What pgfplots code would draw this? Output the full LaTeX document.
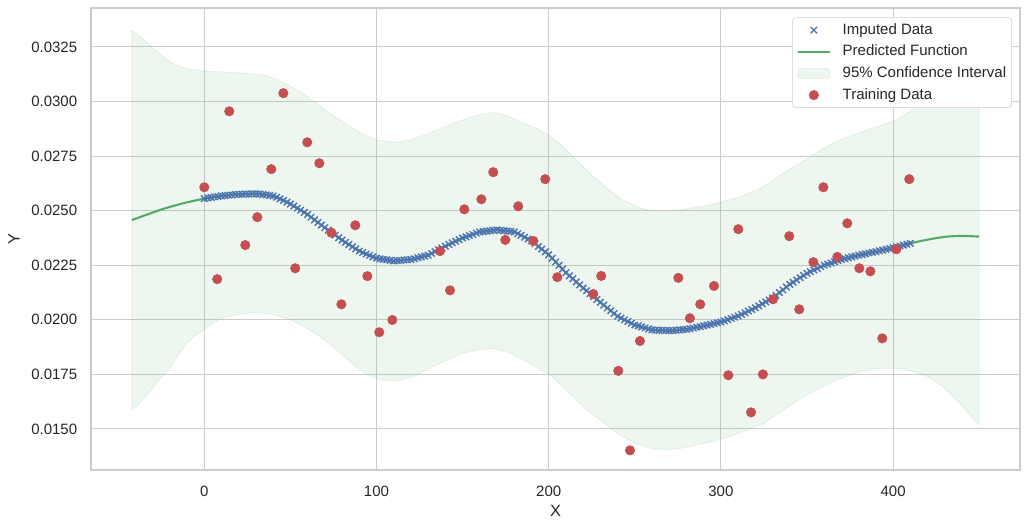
\documentclass[border=0pt]{standalone}
\usepackage{fontspec}
\setmainfont{Liberation Sans}
\usepackage{pgfplots}
\pgfplotsset{compat=1.18}
\usepgfplotslibrary{fillbetween}

\definecolor{sbblue}{RGB}{76,114,176}
\definecolor{sbgreen}{RGB}{85,168,104}
\definecolor{sbred}{RGB}{196,78,82}
\definecolor{gridgray}{RGB}{204,204,204}
\definecolor{txtgray}{RGB}{38,38,38}

\pgfplotsset{
  marklegend/.style={legend image code/.code={\draw[mark repeat=2,mark phase=2,##1] plot coordinates {(0pt,0pt) (11.5pt,0pt) (23pt,0pt)};}},
  linelegend/.style={legend image code/.code={\draw[##1] (0pt,0pt) -- (23pt,0pt);}},
  patchlegend/.style={legend image code/.code={\draw[##1] (0pt,-3.7pt) rectangle (23pt,3.7pt);}},
}

% upper / lower edge of the 95% band
\pgfplotstableread{
x y
-42 0.03326
-38 0.03305
-34 0.03275
-30 0.03245
-25 0.03212
-20 0.03182
-15 0.03162
-10 0.03150
-2 0.03140
8 0.03136
17 0.03133
28 0.03127
37 0.03117
44 0.03095
50 0.03070
56 0.03042
63 0.03005
73 0.02945
83 0.02893
92 0.02850
100 0.02824
110 0.02812
120 0.02825
131 0.02855
140 0.02885
150 0.02916
160 0.02940
168 0.02949
176 0.02935
183 0.02908
192 0.02880
200 0.02847
206 0.02810
212 0.02765
218 0.02717
226 0.02656
235 0.02595
243 0.02549
253 0.02512
263 0.02495
272 0.02498
282 0.02511
292 0.02524
301 0.02541
311 0.02563
321 0.02595
329 0.02630
336 0.02671
346 0.02717
352 0.02747
358 0.02778
365 0.02809
375 0.02842
385 0.02870
393 0.02890
402 0.02916
410 0.02955
420 0.03007
430 0.03080
440 0.03165
450 0.03245
}\ciupper

\pgfplotstableread{
x y
-42 0.01586
-38 0.01615
-34 0.01648
-30 0.01690
-25 0.01735
-20 0.01778
-15 0.01840
-10 0.01895
-5 0.01930
0 0.01955
5 0.01985
11 0.02010
20 0.02025
30 0.02033
40 0.02025
50 0.02000
60 0.01960
69 0.01912
77 0.01862
84 0.01812
92 0.01760
102 0.01725
112 0.01720
122 0.01742
131 0.01778
140 0.01812
150 0.01847
160 0.01864
168 0.01868
176 0.01852
185 0.01816
193 0.01782
201 0.01747
210 0.01680
220 0.01602
230 0.01540
240 0.01478
250 0.01436
259 0.01412
267 0.01404
276 0.01410
286 0.01427
296 0.01444
305 0.01465
315 0.01494
325 0.01526
336 0.01585
348 0.01648
356 0.01683
365 0.01717
375 0.01748
385 0.01770
393 0.01778
402 0.01778
411 0.01765
420 0.01740
428 0.01700
435 0.01648
442 0.01590
450 0.01518
}\cilower

\pgfplotstableread{
x y
-42 0.02457
-35 0.02477
-30 0.02491
-25 0.02505
-20 0.02517
-15 0.02528
-10 0.02538
-5 0.02547
0 0.02555
5 0.02562
10 0.02568
15 0.02572
20 0.02575
25 0.02576
30 0.02577
35 0.02573
40 0.02567
45 0.02551
50 0.02530
55 0.02507
60 0.02482
65 0.02452
70 0.02422
75 0.02394
80 0.02365
85 0.02340
90 0.02315
95 0.02298
100 0.02282
105 0.02276
110 0.02270
115 0.02273
120 0.02276
125 0.02286
130 0.02296
135 0.02317
140 0.02337
145 0.02356
150 0.02375
155 0.02389
160 0.02402
165 0.02407
170 0.02412
175 0.02408
180 0.02403
185 0.02383
190 0.02362
195 0.02330
200 0.02298
205 0.02257
210 0.02216
215 0.02181
220 0.02146
225 0.02113
230 0.02080
235 0.02048
240 0.02016
245 0.01996
250 0.01976
255 0.01965
260 0.01954
265 0.01952
270 0.01950
275 0.01953
280 0.01956
285 0.01964
290 0.01972
295 0.01981
300 0.01990
305 0.02003
310 0.02017
315 0.02036
320 0.02055
325 0.02078
330 0.02100
335 0.02131
340 0.02162
345 0.02188
350 0.02213
355 0.02232
360 0.02250
365 0.02263
370 0.02276
375 0.02286
380 0.02296
385 0.02304
390 0.02312
395 0.02321
400 0.02330
405 0.02340
410 0.02350
415 0.02359
420 0.02367
425 0.02374
430 0.02380
435 0.02383
440 0.02384
445 0.02383
450 0.02381
}\predicted

\pgfplotstableread{
x y
0 0.02555
2 0.02558
4 0.02560
6 0.02563
8 0.02565
10 0.02568
12 0.02569
14 0.02571
16 0.02572
18 0.02574
20 0.02575
22 0.02575
24 0.02576
26 0.02576
28 0.02577
30 0.02577
32 0.02576
34 0.02574
36 0.02572
38 0.02570
40 0.02567
42 0.02561
44 0.02554
46 0.02547
48 0.02539
50 0.02530
52 0.02521
54 0.02511
56 0.02502
58 0.02492
60 0.02482
62 0.02470
64 0.02458
66 0.02446
68 0.02434
70 0.02422
72 0.02411
74 0.02399
76 0.02388
78 0.02376
80 0.02365
82 0.02355
84 0.02345
86 0.02335
88 0.02325
90 0.02315
92 0.02308
94 0.02301
96 0.02295
98 0.02288
100 0.02282
102 0.02279
104 0.02277
106 0.02275
108 0.02272
110 0.02270
112 0.02271
114 0.02272
116 0.02274
118 0.02275
120 0.02276
122 0.02280
124 0.02284
126 0.02288
128 0.02292
130 0.02296
132 0.02304
134 0.02312
136 0.02321
138 0.02329
140 0.02337
142 0.02345
144 0.02352
146 0.02360
148 0.02367
150 0.02375
152 0.02380
154 0.02386
156 0.02391
158 0.02397
160 0.02402
162 0.02404
164 0.02406
166 0.02408
168 0.02410
170 0.02412
172 0.02410
174 0.02408
176 0.02407
178 0.02405
180 0.02403
182 0.02395
184 0.02387
186 0.02378
188 0.02370
190 0.02362
192 0.02349
194 0.02336
196 0.02324
198 0.02311
200 0.02298
202 0.02282
204 0.02265
206 0.02249
208 0.02232
210 0.02216
212 0.02202
214 0.02188
216 0.02174
218 0.02160
220 0.02146
222 0.02133
224 0.02120
226 0.02106
228 0.02093
230 0.02080
232 0.02067
234 0.02054
236 0.02042
238 0.02029
240 0.02016
242 0.02008
244 0.02000
246 0.01992
248 0.01984
250 0.01976
252 0.01972
254 0.01967
256 0.01963
258 0.01958
260 0.01954
262 0.01953
264 0.01952
266 0.01952
268 0.01951
270 0.01950
272 0.01951
274 0.01952
276 0.01954
278 0.01955
280 0.01956
282 0.01959
284 0.01962
286 0.01966
288 0.01969
290 0.01972
292 0.01976
294 0.01979
296 0.01983
298 0.01986
300 0.01990
302 0.01995
304 0.02001
306 0.02006
308 0.02012
310 0.02017
312 0.02025
314 0.02032
316 0.02040
318 0.02047
320 0.02055
322 0.02064
324 0.02073
326 0.02082
328 0.02091
330 0.02100
332 0.02112
334 0.02125
336 0.02137
338 0.02150
340 0.02162
342 0.02172
344 0.02182
346 0.02193
348 0.02203
350 0.02213
352 0.02220
354 0.02228
356 0.02235
358 0.02243
360 0.02250
362 0.02255
364 0.02260
366 0.02266
368 0.02271
370 0.02276
372 0.02280
374 0.02284
376 0.02288
378 0.02292
380 0.02296
382 0.02299
384 0.02302
386 0.02306
388 0.02309
390 0.02312
392 0.02316
394 0.02319
396 0.02323
398 0.02326
400 0.02330
402 0.02334
404 0.02338
406 0.02342
408 0.02346
410 0.02350
}\imputed

\pgfplotstableread{
x y
0 0.02607
7.5 0.02186
14.5 0.02955
23.8 0.02342
30.8 0.02470
38.9 0.02690
45.9 0.03038
52.8 0.02236
59.8 0.02813
66.8 0.02717
73.8 0.02399
79.6 0.02071
87.7 0.02433
94.7 0.02200
101.6 0.01943
109.2 0.01999
136.9 0.02315
142.7 0.02135
151.0 0.02506
160.9 0.02552
167.8 0.02676
174.8 0.02366
182.3 0.02520
191.1 0.02361
198.0 0.02644
205.0 0.02195
225.9 0.02118
230.5 0.02201
240.4 0.01766
247.2 0.01402
253.0 0.01903
275.3 0.02192
282.0 0.02007
288.0 0.02071
296.0 0.02155
304.3 0.01746
310.1 0.02415
317.5 0.01576
324.4 0.01750
330.3 0.02094
339.7 0.02383
345.5 0.02048
353.7 0.02264
359.5 0.02607
367.6 0.02288
373.4 0.02442
380.4 0.02236
386.8 0.02222
393.7 0.01915
401.9 0.02323
409.4 0.02644
}\training

\begin{document}
\begin{tikzpicture}
\begin{axis}[
  name=ax,
  scale only axis,
  width=668.9pt, height=332.6pt,
  xmin=-65.8, xmax=473.7,
  ymin=0.01312, ymax=0.03428,
  xtick={0,100,200,300,400},
  ytick={0.015,0.0175,0.02,0.0225,0.025,0.0275,0.03,0.0325},
  scaled y ticks=false,
  y tick label style={/pgf/number format/.cd, fixed, fixed zerofill, precision=4, /tikz/.cd},
  /pgf/number format/assume math mode=true,
  tick label style={font=\fontsize{10.8}{13}\selectfont, text=txtgray},
  xticklabel style={yshift=-8pt},
  yticklabel style={xshift=-6.4pt},
  major tick length=0pt,
  grid=major,
  major grid style={gridgray, line width=0.75pt},
  axis line style={gridgray, line width=1.1pt},
  xlabel={X}, ylabel={Y},
  every axis x label/.style={at={([yshift=-29.5pt]axis description cs:0.5,0)}, anchor=center},
  every axis y label/.style={at={([xshift=-55.4pt]axis description cs:0,0.5)}, rotate=90, anchor=center},
  label style={font=\fontsize{11.8}{14}\selectfont, text=txtgray},
  legend cell align=left,
  legend style={
    at={(axis description cs:1,1)}, anchor=north east, xshift=-5.8pt, yshift=-6.7pt,
    draw=gridgray, rounded corners=2.5pt, fill=white,
    font=\fontsize{10.8}{13}\selectfont, text=txtgray,
    inner xsep=3pt, inner ysep=3pt, row sep=3.6pt,
    nodes={inner sep=1pt, text height=8pt, text depth=2pt},
    /tikz/every odd column/.append style={column sep=7.5pt},
  },
]
\addplot[name path=up, draw=none, forget plot] table {\ciupper};
\addplot[name path=lo, draw=none, forget plot] table {\cilower};
\addplot[fill=sbgreen, fill opacity=0.1, draw=sbgreen, draw opacity=0.12, line width=0.7pt, forget plot]
  fill between[of=up and lo];

\addplot[only marks, mark=x, mark size=3.3pt, sbblue, line width=1pt, marklegend]
  table {\imputed};
\addlegendentry{Imputed Data}

\addplot[sbgreen, line width=1.5pt, smooth, no marks, linelegend]
  table {\predicted};
\addlegendentry{Predicted Function}

\addlegendimage{patchlegend, fill=sbgreen, fill opacity=0.1, draw=sbgreen, draw opacity=0.15}
\addlegendentry{95\% Confidence Interval}

\addplot[only marks, mark=*, mark size=3.4pt, sbred, mark options={fill=sbred, draw=sbred}, marklegend]
  table {\training};
\addlegendentry{Training Data}
\end{axis}
\path ([xshift=-65.5pt,yshift=-42.5pt]ax.south west) rectangle ([xshift=7.2pt,yshift=5.8pt]ax.north east);
\end{tikzpicture}
\end{document}
